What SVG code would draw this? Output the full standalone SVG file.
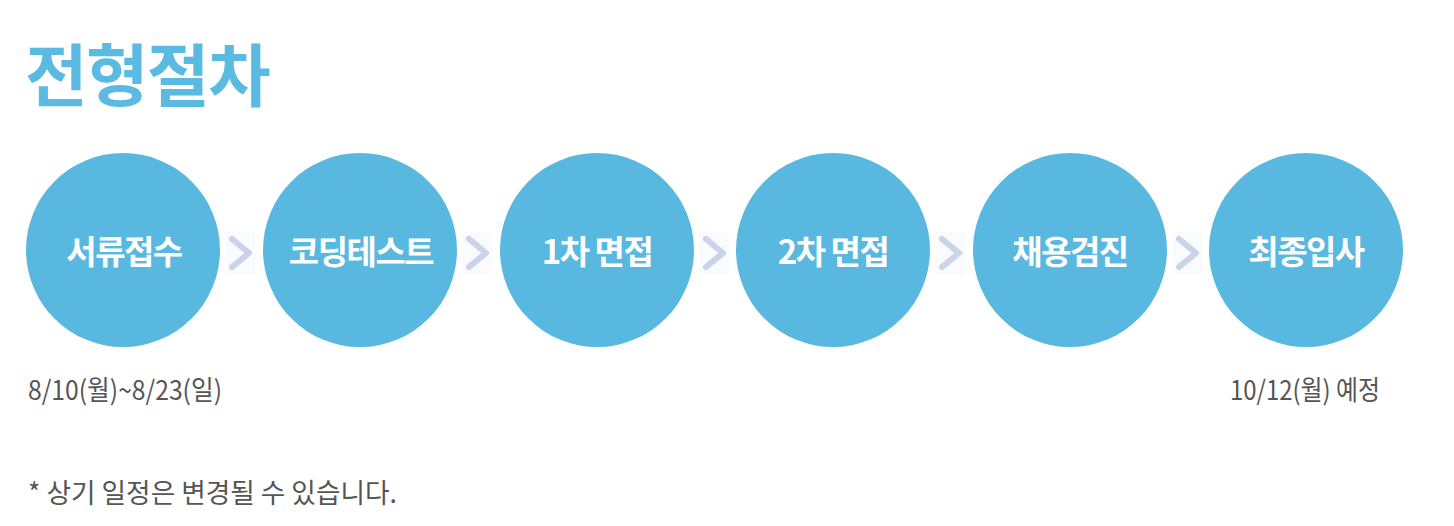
<svg xmlns="http://www.w3.org/2000/svg" width="1454" height="526" viewBox="0 0 1454 526">
<style>
.title{font-family:"Noto Sans CJK KR",sans-serif;font-weight:700;font-size:68px;fill:#5bbae1;letter-spacing:-1.5px}
.step{fill:#58b8e0}
.lbl{font-family:"Noto Sans CJK KR",sans-serif;font-weight:700;font-size:33px;fill:#ffffff;text-anchor:middle;letter-spacing:-1.5px}
.chev{fill:none;stroke:#c9d4e8;stroke-width:6;stroke-linecap:round;stroke-linejoin:round}
.chbg{fill:#fafbfe}
.date{font-family:"Noto Sans CJK KR",sans-serif;font-size:27px;fill:#555555}
.note{font-family:"Noto Sans CJK KR",sans-serif;font-size:27px;fill:#555555}
</style>
<rect width="1454" height="526" fill="#ffffff"/>
<text class="title" x="25" y="101">전형절차</text>
<g id="connectors">
<rect class="chbg" x="226" y="232" width="29" height="42"/>
<path class="chev" d="M232,239 L249,253 L232,267"/>
<rect class="chbg" x="463" y="232" width="29" height="42"/>
<path class="chev" d="M469,239 L486,253 L469,267"/>
<rect class="chbg" x="700" y="232" width="29" height="42"/>
<path class="chev" d="M706,239 L723,253 L706,267"/>
<rect class="chbg" x="936" y="232" width="29" height="42"/>
<path class="chev" d="M942,239 L959,253 L942,267"/>
<rect class="chbg" x="1173" y="232" width="29" height="42"/>
<path class="chev" d="M1179,239 L1196,253 L1179,267"/>
</g>
<g id="n1"><circle class="step" cx="123" cy="250" r="97"/><text class="lbl" x="124" y="264">서류접수</text></g>
<g id="n2"><circle class="step" cx="360" cy="250" r="97"/><text class="lbl" x="361" y="264">코딩테스트</text></g>
<g id="n3"><circle class="step" cx="597" cy="250" r="97"/><text class="lbl" x="597" y="264">1차 면접</text></g>
<g id="n4"><circle class="step" cx="833" cy="250" r="97"/><text class="lbl" x="833" y="264">2차 면접</text></g>
<g id="n5"><circle class="step" cx="1070" cy="250" r="97"/><text class="lbl" x="1070" y="264">채용검진</text></g>
<g id="n6"><circle class="step" cx="1306" cy="250" r="97"/><text class="lbl" x="1306" y="264">최종입사</text></g>
<text class="date" x="28" y="400" textLength="194" lengthAdjust="spacingAndGlyphs">8/10(월)~8/23(일)</text>
<text class="date" x="1230" y="400" textLength="150" lengthAdjust="spacingAndGlyphs">10/12(월) 예정</text>
<text class="note" x="28" y="503" textLength="369" lengthAdjust="spacingAndGlyphs">* 상기 일정은 변경될 수 있습니다.</text>
</svg>
